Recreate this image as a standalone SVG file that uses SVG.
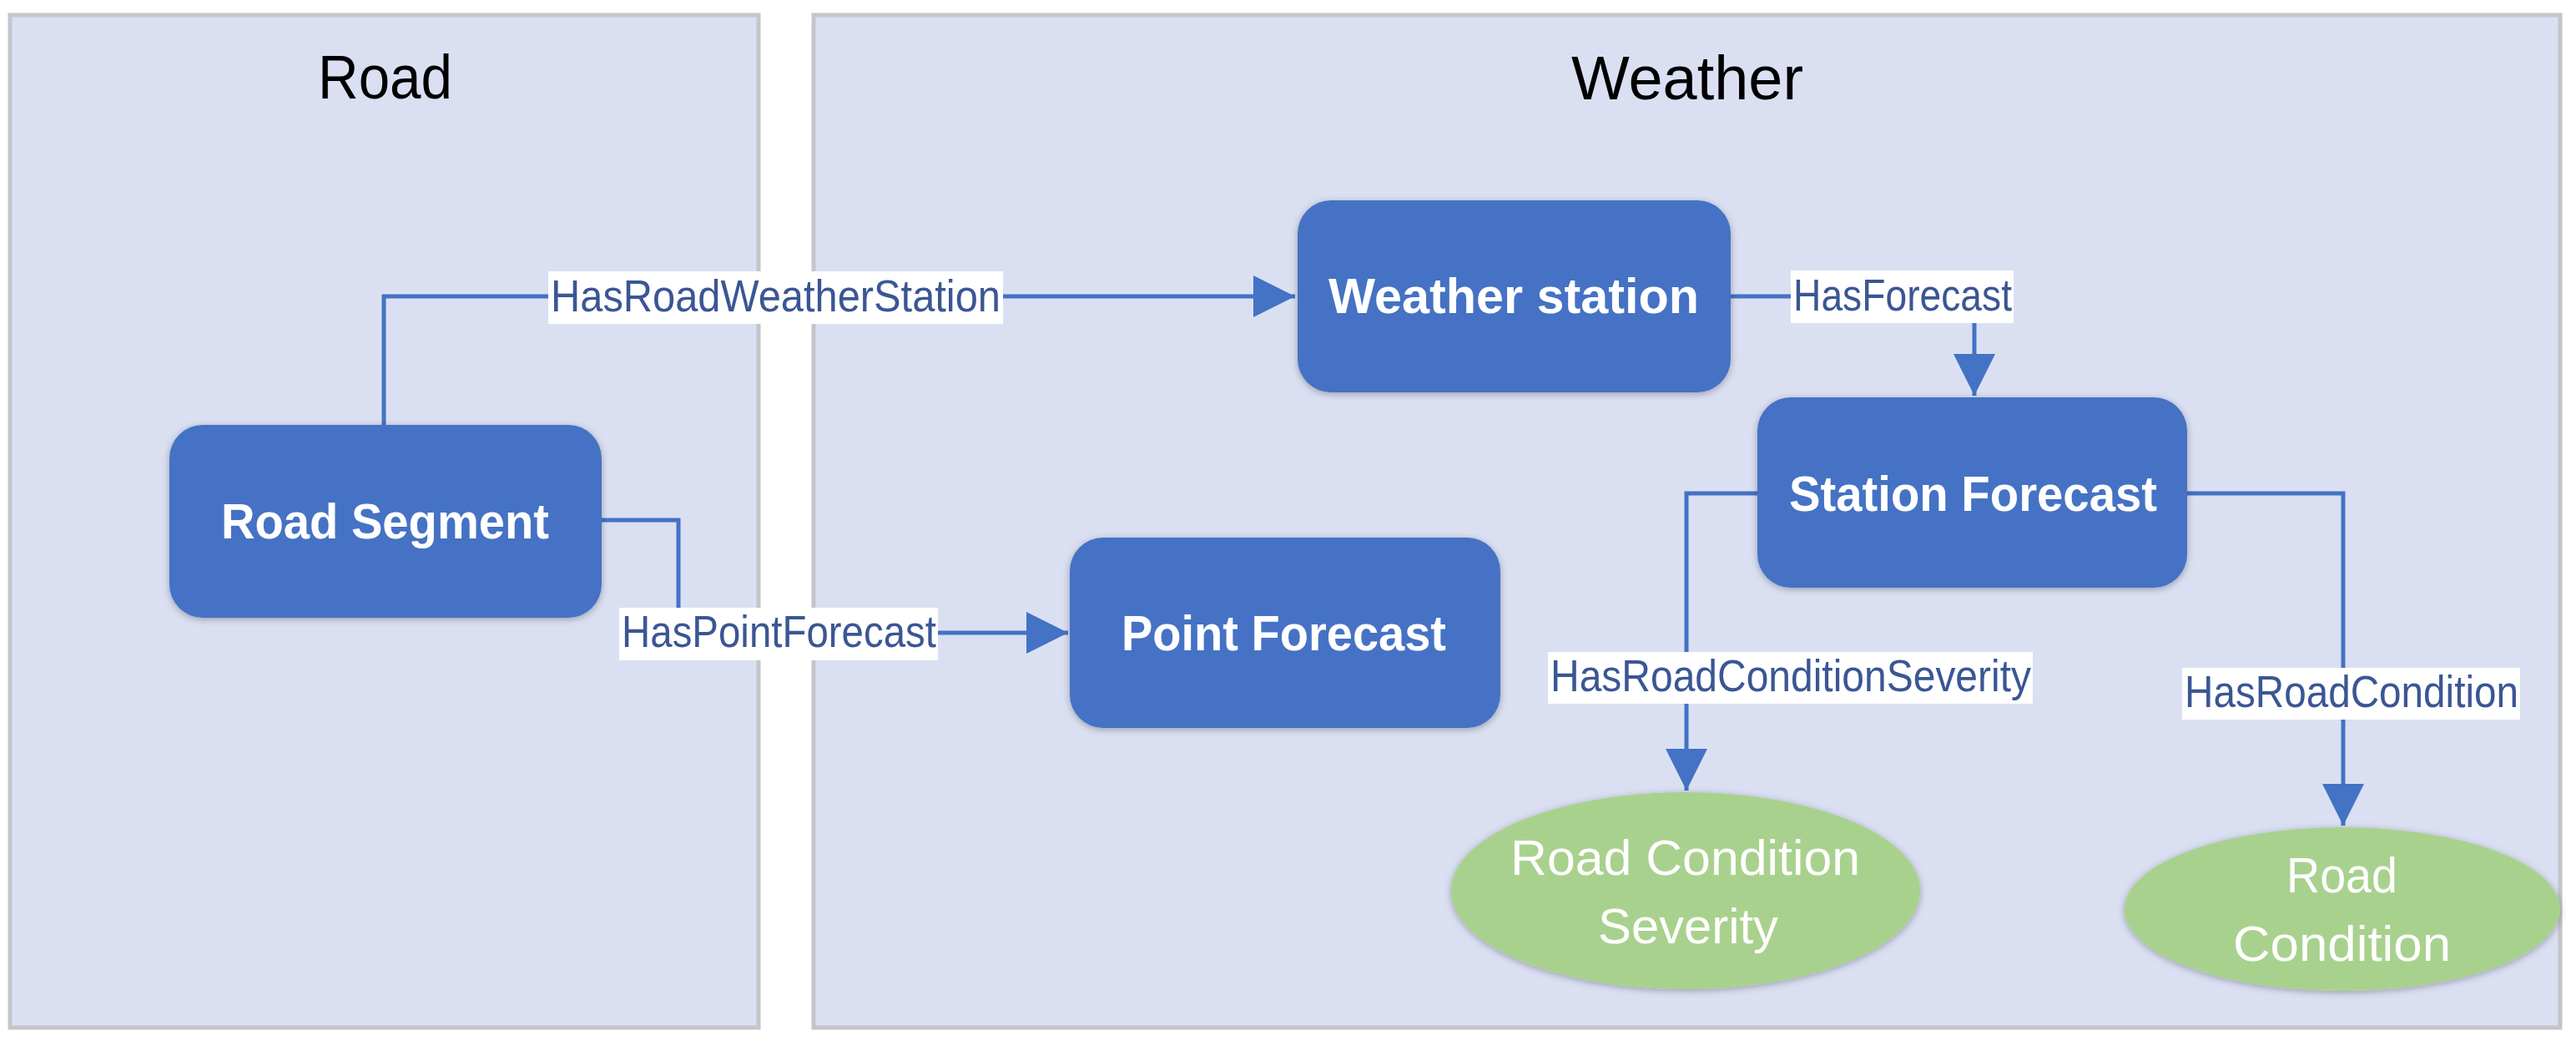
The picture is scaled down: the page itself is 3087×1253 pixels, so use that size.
<svg xmlns="http://www.w3.org/2000/svg" width="3087" height="1253" viewBox="0 0 3087 1253">
  <style>
    .panel { fill: #DAE0F2; stroke: #C3C5CB; stroke-width: 5; }
    .title { font-family: "Liberation Sans", Arial, sans-serif; font-size: 74px; fill: #000000; }
    .box { fill: #4472C4; filter: url(#shadow); }
    .ell { fill: #A9D18E; filter: url(#shadow); }
    .ntext { font-family: "Liberation Sans", Arial, sans-serif; font-size: 60px; font-weight: bold; fill: #FFFFFF; }
    .etext { font-family: "Liberation Sans", Arial, sans-serif; font-size: 60px; fill: #FFFFFF; }
    .conn { fill: none; stroke: #4472C4; stroke-width: 5; }
    .lbg { fill: #FFFFFF; }
    .ltext { font-family: "Liberation Sans", Arial, sans-serif; font-size: 54px; fill: #3B5694; }
  </style>
  <defs>
    <filter id="shadow" x="-10%" y="-10%" width="120%" height="130%">
      <feDropShadow dx="0" dy="2" stdDeviation="4" flood-color="#000000" flood-opacity="0.3"/>
    </filter>
    <marker id="arrow" markerUnits="userSpaceOnUse" markerWidth="50" markerHeight="50" refX="50" refY="25" orient="auto">
      <path d="M0,0 L50,25 L0,50 z" fill="#4472C4"/>
    </marker>
  </defs>
  <rect x="0" y="0" width="3087" height="1253" fill="#FFFFFF"/>

  <g id="panel-road">
    <rect class="panel" x="12" y="18" width="897" height="1213"/>
    <text class="title" x="381" y="118" textLength="161" lengthAdjust="spacingAndGlyphs">Road</text>
  </g>
  <g id="panel-weather">
    <rect class="panel" x="975" y="18" width="2093" height="1213"/>
    <text class="title" x="1883" y="119" textLength="278" lengthAdjust="spacingAndGlyphs">Weather</text>
  </g>

  <g id="connectors">
    <path class="conn" d="M460,509 V355 H1552" marker-end="url(#arrow)"/>
    <path class="conn" d="M721,623 H813 V758 H1280" marker-end="url(#arrow)"/>
    <path class="conn" d="M2074,355 H2366 V474" marker-end="url(#arrow)"/>
    <path class="conn" d="M2106,591 H2021 V947" marker-end="url(#arrow)"/>
    <path class="conn" d="M2621,591 H2808 V989" marker-end="url(#arrow)"/>
    <g id="label-hasroadweatherstation">
      <rect class="lbg" x="657" y="325" width="545" height="63"/>
      <text class="ltext" x="660" y="373" textLength="539" lengthAdjust="spacingAndGlyphs">HasRoadWeatherStation</text>
    </g>
    <g id="label-hasforecast">
      <rect class="lbg" x="2146" y="324" width="267" height="63"/>
      <text class="ltext" x="2149" y="372" textLength="262" lengthAdjust="spacingAndGlyphs">HasForecast</text>
    </g>
    <g id="label-haspointforecast">
      <rect class="lbg" x="742" y="728" width="382" height="63"/>
      <text class="ltext" x="745" y="775" textLength="377" lengthAdjust="spacingAndGlyphs">HasPointForecast</text>
    </g>
    <g id="label-hasroadconditionseverity">
      <rect class="lbg" x="1855" y="781" width="581" height="62"/>
      <text class="ltext" x="1858" y="828" textLength="576" lengthAdjust="spacingAndGlyphs">HasRoadConditionSeverity</text>
    </g>
    <g id="label-hasroadcondition">
      <rect class="lbg" x="2615" y="800" width="405" height="62"/>
      <text class="ltext" x="2618" y="847" textLength="400" lengthAdjust="spacingAndGlyphs">HasRoadCondition</text>
    </g>
  </g>

  <g id="node-road-segment">
    <rect class="box" x="203" y="509" width="518" height="231" rx="40" ry="40"/>
    <text class="ntext" x="265" y="645" textLength="393" lengthAdjust="spacingAndGlyphs">Road Segment</text>
  </g>
  <g id="node-weather-station">
    <rect class="box" x="1555" y="240" width="519" height="230" rx="40" ry="40"/>
    <text class="ntext" x="1592" y="375" textLength="444" lengthAdjust="spacingAndGlyphs">Weather station</text>
  </g>
  <g id="node-station-forecast">
    <rect class="box" x="2106" y="476" width="515" height="228" rx="40" ry="40"/>
    <text class="ntext" x="2144" y="612" textLength="441" lengthAdjust="spacingAndGlyphs">Station Forecast</text>
  </g>
  <g id="node-point-forecast">
    <rect class="box" x="1282" y="644" width="516" height="228" rx="40" ry="40"/>
    <text class="ntext" x="1344" y="779" textLength="389" lengthAdjust="spacingAndGlyphs">Point Forecast</text>
  </g>
  <g id="node-road-condition-severity">
    <ellipse class="ell" cx="2020" cy="1067" rx="281" ry="118"/>
    <text class="etext" x="1810" y="1048" textLength="419" lengthAdjust="spacingAndGlyphs">Road Condition</text>
    <text class="etext" x="1915" y="1130" textLength="216" lengthAdjust="spacingAndGlyphs">Severity</text>
  </g>
  <g id="node-road-condition">
    <ellipse class="ell" cx="2807" cy="1089" rx="261" ry="98"/>
    <text class="etext" x="2740" y="1069" textLength="133" lengthAdjust="spacingAndGlyphs">Road</text>
    <text class="etext" x="2676" y="1151" textLength="261" lengthAdjust="spacingAndGlyphs">Condition</text>
  </g>
</svg>
